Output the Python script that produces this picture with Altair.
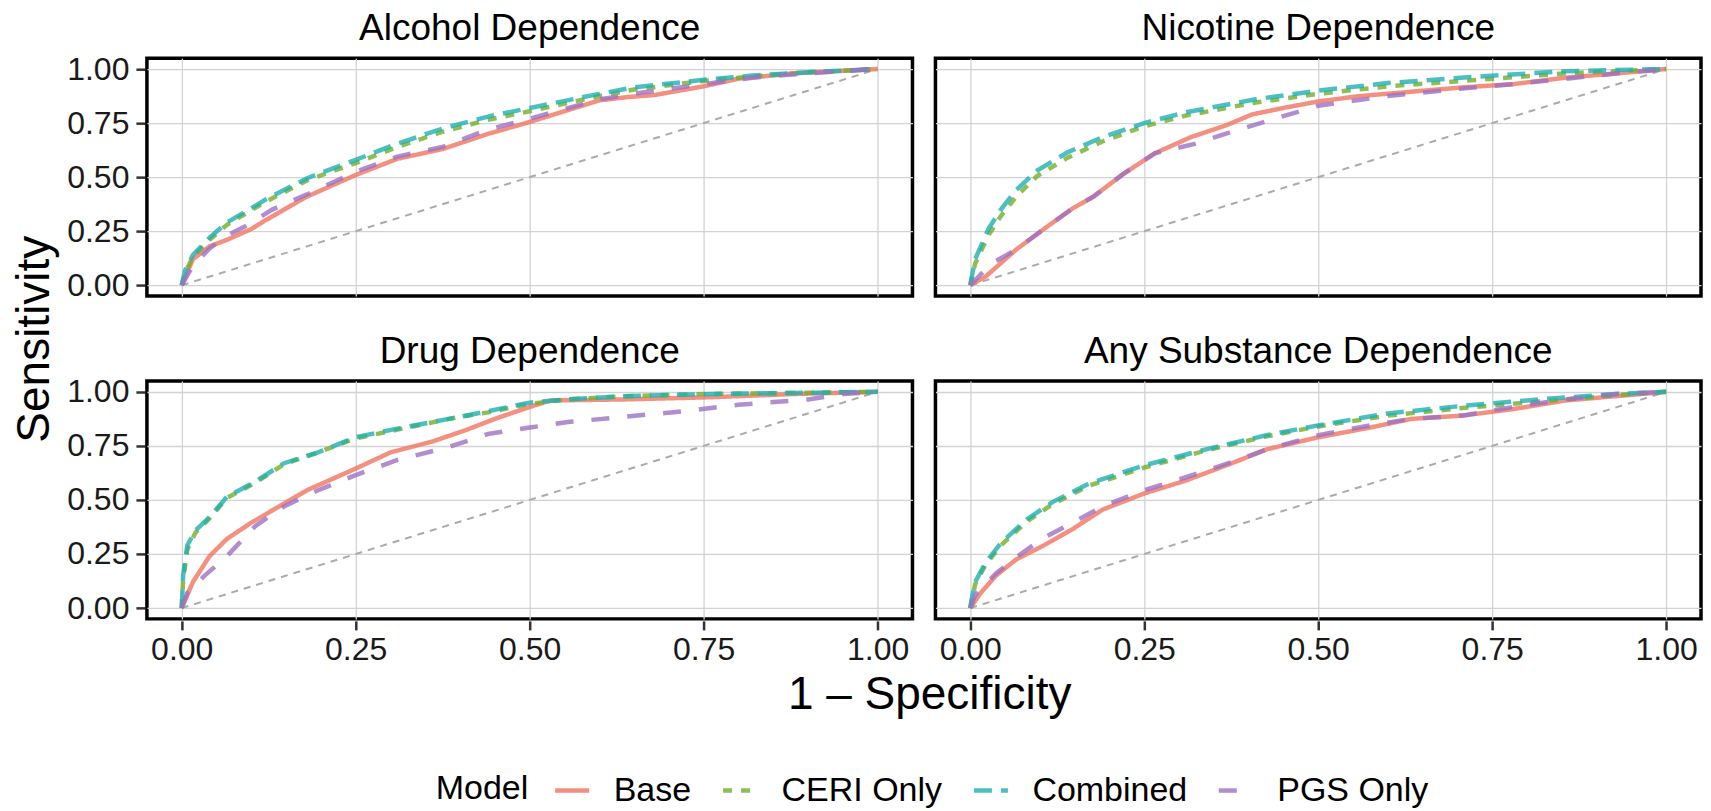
import altair as alt
import pandas as pd

FONT = "Liberation Sans"

panels = ["Alcohol Dependence", "Nicotine Dependence", "Drug Dependence", "Any Substance Dependence"]
models = ["Base", "CERI Only", "Combined", "PGS Only"]
model_colors = ["#F17460", "#73AE2A", "#1FB0B0", "#9C72C4"]
model_dashes = [[1, 0], [9, 9], [18, 9], [18, 18]]
tick_values = [0.0, 0.25, 0.5, 0.75, 1.0]

# ---- Alcohol Dependence ----
alc_base_x = [0, 0.016, 0.04, 0.065, 0.1, 0.12, 0.18, 0.25, 0.31, 0.375, 0.44, 0.5, 0.555, 0.6, 0.64, 0.68, 0.75, 0.8, 0.88, 1.0]
alc_base_y = [0, 0.12, 0.18, 0.21, 0.26, 0.30, 0.41, 0.51, 0.585, 0.63, 0.70, 0.755, 0.81, 0.855, 0.87, 0.88, 0.92, 0.955, 0.98, 1.0]
alc_ceri_x = [0, 0.005, 0.016, 0.04, 0.065, 0.12, 0.18, 0.25, 0.31, 0.375, 0.44, 0.5, 0.6, 0.65, 0.75, 0.82, 0.9, 1.0]
alc_ceri_y = [0, 0.06, 0.13, 0.21, 0.28, 0.385, 0.485, 0.565, 0.64, 0.71, 0.765, 0.805, 0.875, 0.905, 0.945, 0.965, 0.985, 1.0]
alc_comb_x = [0, 0.005, 0.016, 0.04, 0.065, 0.12, 0.18, 0.25, 0.31, 0.375, 0.44, 0.5, 0.6, 0.65, 0.75, 0.82, 0.9, 1.0]
alc_comb_y = [0, 0.07, 0.14, 0.22, 0.29, 0.395, 0.495, 0.58, 0.655, 0.725, 0.78, 0.82, 0.885, 0.915, 0.95, 0.97, 0.985, 1.0]
alc_pgs_x = [0, 0.016, 0.04, 0.065, 0.09, 0.13, 0.18, 0.25, 0.31, 0.375, 0.44, 0.5, 0.6, 0.66, 0.75, 0.82, 0.9, 1.0]
alc_pgs_y = [0, 0.09, 0.17, 0.23, 0.27, 0.35, 0.42, 0.525, 0.595, 0.64, 0.72, 0.77, 0.86, 0.89, 0.93, 0.96, 0.98, 1.0]

# ---- Nicotine Dependence ----
nic_base_x = [0, 0.022, 0.066, 0.11, 0.147, 0.177, 0.22, 0.265, 0.317, 0.368, 0.405, 0.45, 0.5, 0.56, 0.634, 0.707, 0.78, 0.855, 0.93, 1.0]
nic_base_y = [0, 0.04, 0.165, 0.27, 0.355, 0.41, 0.515, 0.61, 0.685, 0.74, 0.79, 0.82, 0.85, 0.875, 0.895, 0.915, 0.93, 0.96, 0.98, 1.0]
nic_ceri_x = [0, 0.007, 0.026, 0.044, 0.066, 0.096, 0.14, 0.19, 0.25, 0.31, 0.41, 0.5, 0.6, 0.73, 0.855, 1.0]
nic_ceri_y = [0, 0.10, 0.23, 0.32, 0.41, 0.505, 0.59, 0.665, 0.735, 0.785, 0.845, 0.885, 0.92, 0.95, 0.98, 1.0]
nic_comb_x = [0, 0.007, 0.026, 0.044, 0.066, 0.096, 0.14, 0.19, 0.25, 0.31, 0.41, 0.5, 0.6, 0.73, 0.855, 1.0]
nic_comb_y = [0, 0.12, 0.26, 0.35, 0.44, 0.53, 0.615, 0.685, 0.75, 0.80, 0.86, 0.90, 0.935, 0.965, 0.99, 1.0]
nic_pgs_x = [0, 0.03, 0.066, 0.11, 0.147, 0.177, 0.22, 0.265, 0.324, 0.376, 0.427, 0.5, 0.6, 0.707, 0.78, 0.93, 1.0]
nic_pgs_y = [0, 0.10, 0.165, 0.27, 0.355, 0.41, 0.515, 0.61, 0.655, 0.71, 0.76, 0.83, 0.875, 0.91, 0.93, 0.98, 1.0]

# ---- Drug Dependence ----
drg_base_x = [0, 0.016, 0.04, 0.065, 0.1, 0.14, 0.18, 0.25, 0.3, 0.36, 0.41, 0.45, 0.5, 0.53, 0.637, 0.76, 0.88, 1.0]
drg_base_y = [0, 0.12, 0.24, 0.32, 0.395, 0.47, 0.545, 0.645, 0.72, 0.77, 0.825, 0.875, 0.93, 0.96, 0.965, 0.975, 0.99, 1.0]
drg_ceri_x = [0, 0.002, 0.008, 0.02, 0.04, 0.065, 0.106, 0.147, 0.196, 0.25, 0.31, 0.384, 0.44, 0.5, 0.555, 0.637, 0.76, 0.88, 1.0]
drg_ceri_y = [0, 0.13, 0.27, 0.35, 0.415, 0.51, 0.58, 0.665, 0.72, 0.785, 0.825, 0.875, 0.905, 0.945, 0.965, 0.98, 0.99, 0.995, 1.0]
drg_comb_x = [0, 0.002, 0.008, 0.02, 0.04, 0.065, 0.106, 0.147, 0.196, 0.25, 0.31, 0.384, 0.44, 0.5, 0.555, 0.637, 0.76, 0.88, 1.0]
drg_comb_y = [0, 0.15, 0.29, 0.36, 0.42, 0.515, 0.585, 0.67, 0.72, 0.79, 0.83, 0.875, 0.91, 0.95, 0.965, 0.98, 0.99, 0.995, 1.0]
drg_pgs_x = [0, 0.008, 0.033, 0.065, 0.106, 0.147, 0.196, 0.25, 0.31, 0.384, 0.44, 0.5, 0.555, 0.637, 0.72, 0.8, 0.9, 0.95, 1.0]
drg_pgs_y = [0, 0.07, 0.15, 0.24, 0.38, 0.47, 0.545, 0.615, 0.685, 0.745, 0.805, 0.835, 0.86, 0.885, 0.91, 0.94, 0.965, 0.99, 1.0]

# ---- Any Substance Dependence ----
any_base_x = [0, 0.015, 0.037, 0.066, 0.103, 0.147, 0.19, 0.25, 0.31, 0.376, 0.427, 0.5, 0.575, 0.634, 0.707, 0.78, 0.855, 0.928, 1.0]
any_base_y = [0, 0.07, 0.15, 0.225, 0.285, 0.365, 0.455, 0.53, 0.59, 0.67, 0.735, 0.79, 0.835, 0.875, 0.89, 0.92, 0.96, 0.98, 1.0]
any_ceri_x = [0, 0.002, 0.007, 0.022, 0.044, 0.081, 0.118, 0.17, 0.25, 0.34, 0.427, 0.5, 0.6, 0.707, 0.818, 0.928, 1.0]
any_ceri_y = [0, 0.03, 0.11, 0.20, 0.29, 0.40, 0.48, 0.565, 0.65, 0.73, 0.795, 0.84, 0.89, 0.925, 0.955, 0.985, 1.0]
any_comb_x = [0, 0.002, 0.007, 0.022, 0.044, 0.081, 0.118, 0.17, 0.25, 0.34, 0.427, 0.5, 0.6, 0.707, 0.818, 0.928, 1.0]
any_comb_y = [0, 0.04, 0.12, 0.21, 0.30, 0.41, 0.49, 0.575, 0.66, 0.735, 0.80, 0.845, 0.90, 0.935, 0.965, 0.99, 1.0]
any_pgs_x = [0, 0.007, 0.037, 0.066, 0.103, 0.147, 0.19, 0.25, 0.31, 0.376, 0.427, 0.5, 0.575, 0.634, 0.707, 0.78, 0.855, 0.928, 1.0]
any_pgs_y = [0, 0.06, 0.16, 0.235, 0.32, 0.395, 0.47, 0.545, 0.605, 0.675, 0.735, 0.80, 0.845, 0.875, 0.89, 0.93, 0.965, 0.99, 1.0]

diag_x = [0.0, 1.0]
diag_y = [0.0, 1.0]

curves = {
    "Alcohol Dependence": [(alc_base_x, alc_base_y), (alc_ceri_x, alc_ceri_y), (alc_comb_x, alc_comb_y), (alc_pgs_x, alc_pgs_y)],
    "Nicotine Dependence": [(nic_base_x, nic_base_y), (nic_ceri_x, nic_ceri_y), (nic_comb_x, nic_comb_y), (nic_pgs_x, nic_pgs_y)],
    "Drug Dependence": [(drg_base_x, drg_base_y), (drg_ceri_x, drg_ceri_y), (drg_comb_x, drg_comb_y), (drg_pgs_x, drg_pgs_y)],
    "Any Substance Dependence": [(any_base_x, any_base_y), (any_ceri_x, any_ceri_y), (any_comb_x, any_comb_y), (any_pgs_x, any_pgs_y)],
}

rows = []
for p in panels:
    for m, (xs, ys) in zip(models, curves[p]):
        for i, (xv, yv) in enumerate(zip(xs, ys)):
            rows.append({"panel": p, "model": m, "fpr": xv, "tpr": yv, "idx": i})
    for i, (xv, yv) in enumerate(zip(diag_x, diag_y)):
        rows.append({"panel": p, "model": "diag", "fpr": xv, "tpr": yv, "idx": i})
df = pd.DataFrame(rows)

x_enc = alt.X("fpr:Q", title=None,
              scale=alt.Scale(domain=[-0.05, 1.05], nice=False, zero=False),
              axis=alt.Axis(values=tick_values, format=".2f"))
y_enc = alt.Y("tpr:Q", title=None,
              scale=alt.Scale(domain=[-0.05, 1.05], nice=False, zero=False),
              axis=alt.Axis(values=tick_values, format=".2f"))

legend = alt.Legend(
    title="Model", orient="none", legendX=289, legendY=713,
    direction="horizontal", titleOrient="left", symbolType="stroke",
    symbolStrokeWidth=4.5, symbolSize=1156, symbolOpacity=0.8,
    labelFontSize=34, titleFontSize=34, titleFontWeight="normal",
    labelOffset=22, columnPadding=22, titlePadding=24, labelLimit=0,
    labelFont=FONT, titleFont=FONT, labelColor="black", titleColor="black",
)

diag = alt.Chart().transform_filter(alt.datum.model == "diag").mark_line(
    color="#ababab", strokeWidth=2, strokeDash=[7, 6]
).encode(x=x_enc, y=y_enc, order="idx:Q")

lines = alt.Chart().transform_filter(alt.datum.model != "diag").mark_line(
    strokeWidth=4.5, opacity=0.8
).encode(
    x=x_enc, y=y_enc,
    color=alt.Color("model:N", title="Model",
                    scale=alt.Scale(domain=models, range=model_colors), legend=legend),
    strokeDash=alt.StrokeDash("model:N", title="Model",
                              scale=alt.Scale(domain=models, range=model_dashes), legend=legend),
    order="idx:Q",
)

facet = alt.layer(diag, lines, data=df).properties(width=766, height=238).facet(
    facet=alt.Facet("panel:N", sort=panels,
                    header=alt.Header(title=None, labelFontSize=37, labelFont=FONT,
                                      labelColor="black", labelPadding=10)),
    columns=2,
    spacing={"row": 33, "column": 19},
).properties(
    title=alt.TitleParams("1 \u2013 Specificity", orient="bottom", anchor="middle", fontSize=46,
                          font=FONT, fontWeight="normal", color="black", offset=7, dx=45)
)

chart = alt.vconcat(
    facet,
    title=alt.TitleParams("Sensitivity", orient="left", anchor="middle", fontSize=46,
                          font=FONT, fontWeight="normal", color="black", offset=8, dx=69),
).properties(
    padding={"left": 3, "top": 0, "right": 0, "bottom": 0}
).configure(
    font=FONT
).configure_view(
    stroke="black", strokeWidth=3.5
).configure_axis(
    grid=True, gridColor="#d3d3d3", gridWidth=1.3, domain=False,
    tickColor="#333333", tickWidth=2.5, tickSize=9,
    labelFontSize=32, labelColor="#1a1a1a", labelFont=FONT,
).configure_axisX(
    labelPadding=5
).configure_axisY(
    labelPadding=7
)

chart.save("out.html", embed_options={"renderer": "svg", "actions": False})
